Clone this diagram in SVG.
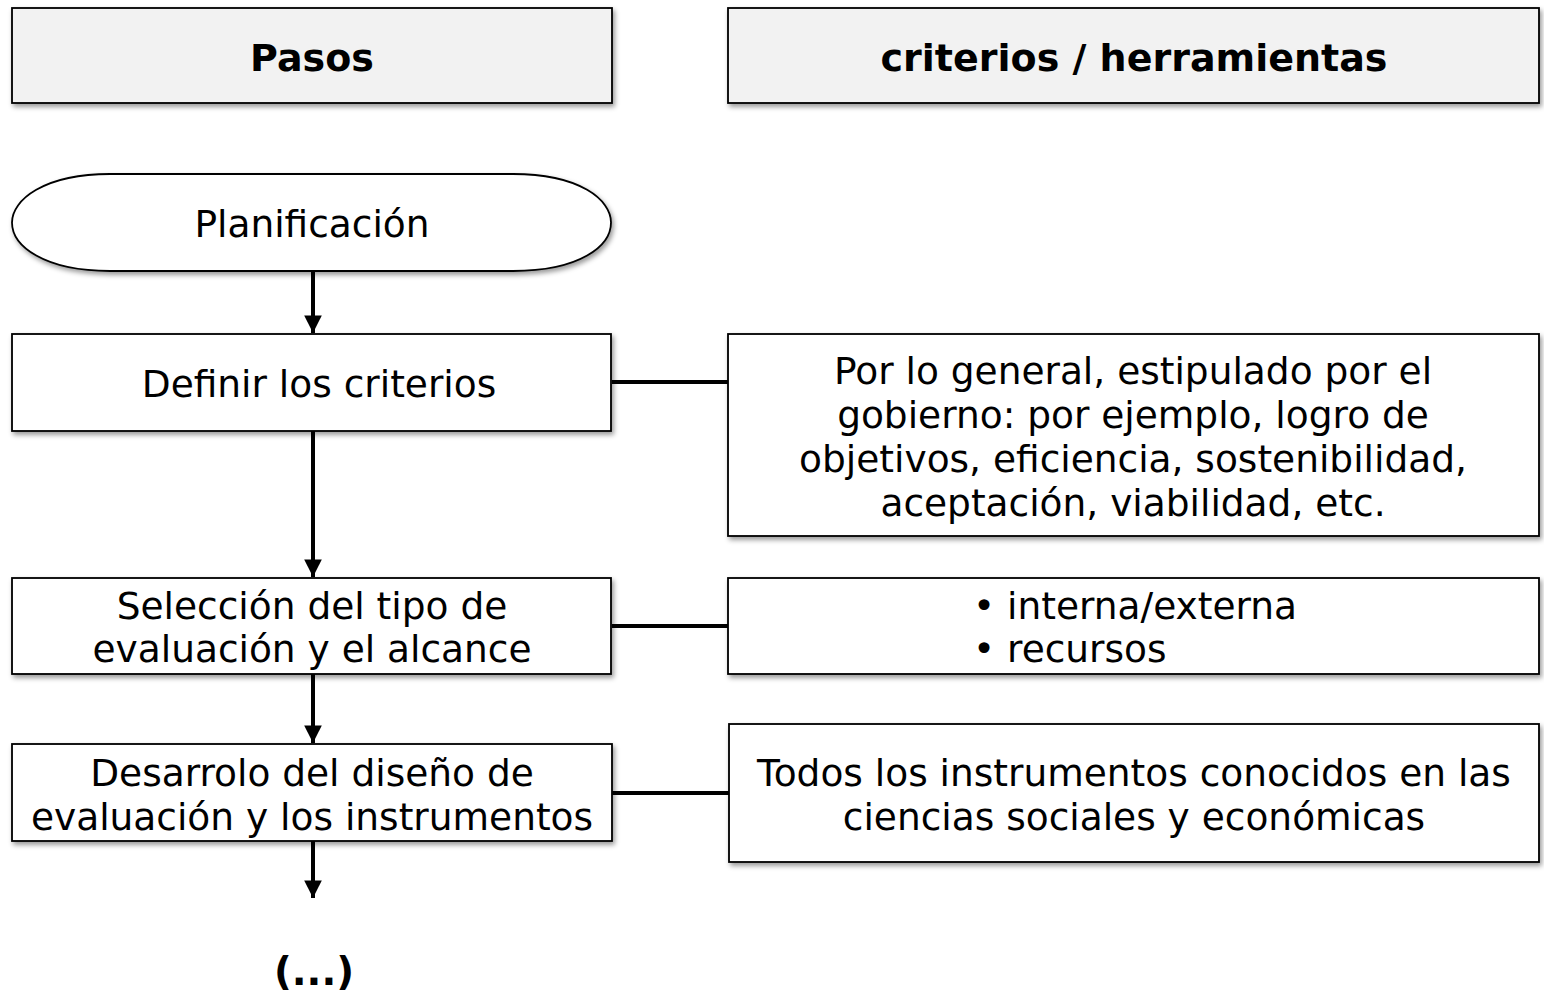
<svg xmlns="http://www.w3.org/2000/svg" width="1544" height="996" viewBox="0 0 1544 996">
<defs>
<filter id="sh" x="-5%" y="-10%" width="110%" height="130%">
<feDropShadow dx="2" dy="3" stdDeviation="2.5" flood-color="#000" flood-opacity="0.4"/>
</filter>
<marker id="ah" viewBox="0 0 10 10" refX="10" refY="5" markerWidth="4.4" markerHeight="4.4" markerUnits="strokeWidth" orient="auto">
<path d="M0,0 L10,5 L0,10 z" fill="#000"/>
</marker>
<style>
.box{fill:#fff;stroke:#000;stroke-width:1.8;filter:url(#sh)}
.hdr{fill:#f2f2f2;stroke:#000;stroke-width:1.8;filter:url(#sh)}
text{font-family:"DejaVu Sans","Liberation Sans",sans-serif;font-size:37.5px;fill:#000;text-anchor:middle}
.b{font-weight:bold;font-size:38px}
.c{fill:none;stroke:#000;stroke-width:4}
</style>
</defs>
<g id="connectors">
<line class="c" x1="313" y1="271" x2="313" y2="333" marker-end="url(#ah)"/>
<line class="c" x1="313" y1="431" x2="313" y2="577" marker-end="url(#ah)"/>
<line class="c" x1="313" y1="674" x2="313" y2="743" marker-end="url(#ah)"/>
<line class="c" x1="313" y1="841" x2="313" y2="898" marker-end="url(#ah)"/>
<line class="c" x1="612" y1="382" x2="728" y2="382"/>
<line class="c" x1="612" y1="626" x2="728" y2="626"/>
<line class="c" x1="612" y1="793" x2="729" y2="793"/>
</g>
<g id="hdr-pasos">
<rect class="hdr" x="12" y="8" width="600" height="95"/>
<text class="b" x="312" y="71">Pasos</text>
</g>
<g id="hdr-criterios">
<rect class="hdr" x="728" y="8" width="811" height="95"/>
<text class="b" x="1134" y="71">criterios / herramientas</text>
</g>
<g id="planificacion">
<path class="box" d="M110,174 H513 C580,174 611,200 611,222.5 C611,246 580,271 513,271 H110 C44,271 12,246 12,222.5 C12,200 44,174 110,174 Z"/>
<text x="312" y="237">Planificación</text>
</g>
<g id="definir">
<rect class="box" x="12" y="334" width="599" height="97"/>
<text x="319" y="397">Definir los criterios</text>
</g>
<g id="criterios-info">
<rect class="box" x="728" y="334" width="811" height="202"/>
<text x="1133" y="384">Por lo general, estipulado por el</text>
<text x="1133" y="428">gobierno: por ejemplo, logro de</text>
<text x="1133" y="472">objetivos, eficiencia, sostenibilidad,</text>
<text x="1133" y="516">aceptación, viabilidad, etc.</text>
</g>
<g id="seleccion">
<rect class="box" x="12" y="578" width="599" height="96"/>
<text x="312" y="619">Selección del tipo de</text>
<text x="312" y="662">evaluación y el alcance</text>
</g>
<g id="tipo-info">
<rect class="box" x="728" y="578" width="811" height="96"/>
<text x="973" y="619" style="text-anchor:start">• interna/externa</text>
<text x="973" y="662" style="text-anchor:start">• recursos</text>
</g>
<g id="desarrolo">
<rect class="box" x="12" y="744" width="600" height="97"/>
<text x="312" y="786">Desarrolo del diseño de</text>
<text x="312" y="830">evaluación y los instrumentos</text>
</g>
<g id="instrumentos-info">
<rect class="box" x="729" y="724" width="810" height="138"/>
<text x="1134" y="786">Todos los instrumentos conocidos en las</text>
<text x="1134" y="830">ciencias sociales y económicas</text>
</g>
<g id="continuacion">
<text class="b" x="314" y="985" style="font-size:39px">(...)</text>
</g>
</svg>
